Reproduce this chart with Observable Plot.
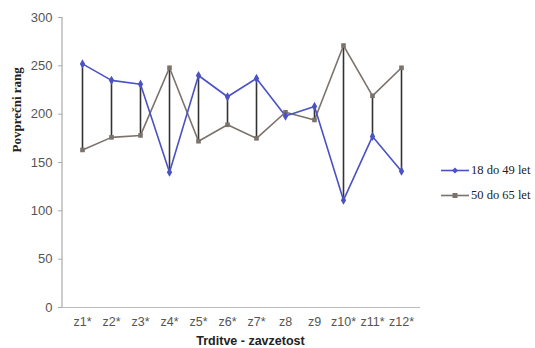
<!DOCTYPE html>
<html><head><meta charset="utf-8">
<script src="https://cdn.jsdelivr.net/npm/d3@7"></script>
<script src="https://cdn.jsdelivr.net/npm/@observablehq/plot@0.6"></script>
<style>
body{margin:0;background:#fff;}
#wrap{position:relative;width:535px;height:348px;}
.leg{position:absolute;left:441px;font-family:"Liberation Serif","DejaVu Serif",serif;font-size:12.5px;color:#222;display:flex;align-items:center;white-space:nowrap;}
.leg svg{margin-right:2px;}
</style>
</head><body>
<div id="wrap"></div>
<script>
const categories = ["z1*","z2*","z3*","z4*","z5*","z6*","z7*","z8","z9","z10*","z11*","z12*"];
const young = [252,235,231,140,240,218,237,198,208,111,177,141];
const old   = [163,176,178,248,172,189,175,202,194,271,219,248];
const seriesNames = ["18 do 49 let","50 do 65 let"];
const yTicks = [0,50,100,150,200,250,300];

const rows = categories.map((c,i)=>({cat:c, a:young[i], b:old[i]}));
const blue = "#4a52c4", grey = "#7b726c";

const plot = Plot.plot({
  width:535, height:348,
  marginLeft:62, marginRight:115, marginTop:17, marginBottom:41,
  style:{fontFamily:"Liberation Sans, Arial, sans-serif", fontSize:"12px", color:"#666", background:"#fff"},
  x:{type:"point", domain:categories, range:[77,406], padding:0, label:null},
  y:{domain:[0,300], label:null},
  marks:[
    Plot.axisX({tickSize:0, tickPadding:10, fontSize:12.5, fill:"#555", label:null}),
    Plot.axisY({ticks:yTicks, tickSize:4, tickPadding:6, fontSize:13, fill:"#555", stroke:"#aaa", label:null}),
    Plot.ruleY([0], {stroke:"#bbb", strokeWidth:1.2}),
    Plot.ruleX(rows, {x:"cat", y1:"a", y2:"b", stroke:"#333", strokeWidth:1.6}),
    Plot.line(rows, {x:"cat", y:"b", stroke:grey, strokeWidth:1.6}),
    Plot.line(rows, {x:"cat", y:"a", stroke:blue, strokeWidth:1.6}),
    Plot.dot(rows, {x:"cat", y:"b", symbol:"square", r:2.6, fill:grey, stroke:"none"}),
    Plot.dot(rows, {x:"cat", y:"a", symbol:"diamond", r:2.8, fill:blue, stroke:"none"}),
    Plot.text(["Povprečni rang"], {frameAnchor:"left", rotate:-90, dx:-46, dy:-10, fontFamily:"Liberation Serif, Times New Roman, serif", fontWeight:"bold", fontSize:13, fill:"#222"}),
    Plot.text(["Trditve - zavzetost"], {frameAnchor:"bottom", dx:9, dy:37, fontFamily:"Liberation Sans, Arial, sans-serif", fontWeight:"bold", fontSize:12.5, fill:"#222"})
  ]
});
const wrap = document.getElementById("wrap");
wrap.appendChild(plot);

// left axis line using the plot's y scale
const ys = plot.scale("y");
d3.select(plot).append("line")
  .attr("x1", 62).attr("x2", 62)
  .attr("y1", ys.range[0]).attr("y2", ys.range[1])
  .attr("stroke","#aaa").attr("stroke-width",1.2);

// legend
const legendColors = [blue, grey];
const legendSymbols = ["diamond","square"];
const tops = [163, 188];
seriesNames.forEach((n,i)=>{
  const d = document.createElement("div");
  d.className = "leg";
  d.style.top = tops[i] + "px";
  const c = legendColors[i];
  const sym = legendSymbols[i]==="diamond"
    ? `<path d="M14 3.5 L17 6.5 L14 9.5 L11 6.5Z" fill="${c}"/>`
    : `<rect x="11.5" y="4" width="5" height="5" fill="${c}"/>`;
  d.innerHTML = `<svg width="28" height="13"><line x1="0" x2="28" y1="6.5" y2="6.5" stroke="${c}" stroke-width="1.6"/>${sym}</svg><span>${n}</span>`;
  wrap.appendChild(d);
});
</script>
</body></html>
